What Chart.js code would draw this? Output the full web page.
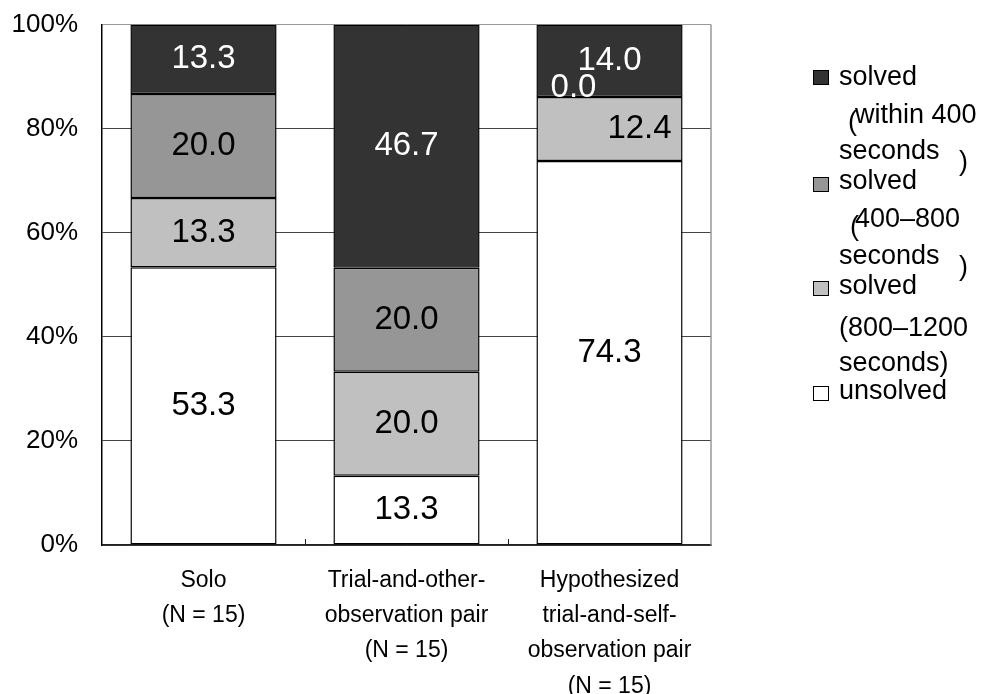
<!DOCTYPE html>
<html>
<head>
<meta charset="utf-8">
<script src="https://cdn.jsdelivr.net/npm/chart.js@4"></script>
<style>
  html, body { margin: 0; padding: 0; background: #fff; overflow: hidden; }
  #wrap { position: relative; width: 985px; height: 694px; overflow: hidden; }
  #chart { position: absolute; left: 0; top: -15px; }
  #legend { position: absolute; left: 0; top: 0; width: 985px; height: 694px; pointer-events: none;
            font-family: "Liberation Sans", Arial, sans-serif; font-size: 27px; color: #000; }
  #legend span { position: absolute; white-space: nowrap; line-height: 27px; }
  #legend i { position: absolute; width: 14px; height: 13px; border: 1.5px solid #000; }
</style>
</head>
<body>
<div id="wrap">
  <canvas id="chart" width="985" height="709"></canvas>
  <div id="legend"></div>
</div>
<script>
// data
const categories = [
  ["Solo", "(N = 15)"],
  ["Trial-and-other-", "observation pair", "(N = 15)"],
  ["Hypothesized", "trial-and-self-", "observation pair", "(N = 15)"]
];
const unsolved = [53.3, 13.3, 74.3];
const solved800to1200 = [13.3, 20.0, 12.4];
const solved400to800 = [20.0, 20.0, 0.0];
const solvedWithin400 = [13.3, 46.7, 14.0];
const yTicks = [0, 20, 40, 60, 80, 100];

const FONT = '"Liberation Sans", Arial, sans-serif';

// 100% stacked: each bar is scaled to its own total
const totals = categories.map((_, i) =>
  unsolved[i] + solved800to1200[i] + solved400to800[i] + solvedWithin400[i]);
const share = (arr) => arr.map((v, i) => (v / totals[i]) * 100);

const series = [
  { label: "unsolved", raw: unsolved, color: "#ffffff", text: "#000" },
  { label: "solved (800–1200 seconds)", raw: solved800to1200, color: "#c0c0c0", text: "#000" },
  { label: "solved (400–800 seconds)", raw: solved400to800, color: "#969696", text: "#000" },
  { label: "solved (within 400 seconds)", raw: solvedWithin400, color: "#333333", text: "#fff" }
];

// numbers inside the segments
const segmentLabels = {
  id: "segmentLabels",
  afterDatasetsDraw(chart) {
    const ctx = chart.ctx;
    ctx.save();
    ctx.font = "33px " + FONT;
    ctx.textAlign = "center";
    ctx.textBaseline = "middle";
    chart.data.datasets.forEach((ds, di) => {
      const meta = chart.getDatasetMeta(di);
      meta.data.forEach((bar, i) => {
        const v = ds.raw[i];
        let x = bar.x;
        let y = (bar.y + bar.base) / 2;
        let color = ds.labelColor;
        // empty segment: label pushed aside like the original
        if (v === 0) { x -= 36; y -= 9; color = "#fff"; }
        const above = chart.data.datasets[di + 1];
        if (above && above.raw[i] === 0) x += 30;
        ctx.fillStyle = color;
        ctx.fillText(v.toFixed(1), x, y);
      });
    });
    ctx.restore();
  }
};

// right frame line + small category ticks on the x axis
const frame = {
  id: "frame",
  beforeDatasetsDraw(chart) {
    const { ctx, chartArea: a, scales } = chart;
    ctx.save();
    ctx.strokeStyle = "#999";
    ctx.lineWidth = 1.5;
    ctx.beginPath();
    ctx.moveTo(a.right, a.top);
    ctx.lineTo(a.right, a.bottom);
    ctx.stroke();
    const x = scales.x;
    const half = (x.getPixelForValue(1) - x.getPixelForValue(0)) / 2;
    ctx.strokeStyle = "#222";
    ctx.lineWidth = 1;
    for (let i = 1; i < categories.length; i++) {
      const px = Math.round(x.getPixelForValue(i) - half) + 0.5;
      ctx.beginPath();
      ctx.moveTo(px, a.bottom);
      ctx.lineTo(px, a.bottom - 6);
      ctx.stroke();
    }
    ctx.restore();
  }
};

new Chart(document.getElementById("chart"), {
  type: "bar",
  data: {
    labels: categories,
    datasets: series.map((s) => ({
      label: s.label,
      raw: s.raw,
      labelColor: s.text,
      data: share(s.raw),
      backgroundColor: s.color,
      borderColor: "#000",
      borderWidth: 1.5,
      borderSkipped: false,
      barPercentage: 0.72,
      categoryPercentage: 1
    }))
  },
  options: {
    responsive: false,
    animation: false,
    layout: { padding: { top: 0, right: 274, bottom: 0, left: 0 } },
    plugins: { legend: { display: false }, tooltip: { enabled: false } },
    scales: {
      x: {
        stacked: true,
        grid: { display: false },
        border: { display: true, color: "#222", width: 1.5 },
        ticks: {
          color: "#000",
          font: { family: FONT, size: 23, lineHeight: 1.53 },
          padding: 10,
          maxRotation: 0,
          autoSkip: false
        },
        afterFit(s) { s.height = 149; }
      },
      y: {
        stacked: true,
        min: 0,
        max: 100,
        afterBuildTicks(s) { s.ticks = yTicks.map((v) => ({ value: v })); },
        ticks: {
          color: "#000",
          font: { family: FONT, size: 26 },
          padding: 24,
          callback: (v) => v + "%"
        },
        grid: {
          color: (c) => (c.tick && c.tick.value === 100 ? "#999" : "#444"),
          lineWidth: 1,
          drawTicks: false
        },
        border: { display: true, color: "#000", width: 1.5 },
        afterFit(s) { s.width = 102; }
      }
    }
  },
  plugins: [frame, segmentLabels]
});

// legend, laid out with the odd line breaks of the original
const legendSquares = [
  { color: "#333333", top: 70 },
  { color: "#969696", top: 177 },
  { color: "#c0c0c0", top: 281 },
  { color: "#ffffff", top: 386 }
];
const legendLines = [
  ["solved", 839, 86], ["(", 848, 131], ["within 400", 855, 124], ["seconds", 839, 160], [")", 959, 171],
  ["solved", 839, 190], ["(", 850, 236], ["400–800", 855, 228], ["seconds", 839, 265], [")", 959, 276],
  ["solved", 839, 295], ["(800–1200", 839, 337], ["seconds)", 839, 372],
  ["unsolved", 839, 400]
];
const legend = document.getElementById("legend");
legendSquares.forEach((sq) => {
  const el = document.createElement("i");
  el.style.left = "813px";
  el.style.top = sq.top + "px";
  el.style.background = sq.color;
  legend.appendChild(el);
});
legendLines.forEach(([t, x, base]) => {
  const el = document.createElement("span");
  el.textContent = t;
  el.style.left = x + "px";
  el.style.top = (base - 23) + "px";
  legend.appendChild(el);
});
</script>
</body>
</html>
